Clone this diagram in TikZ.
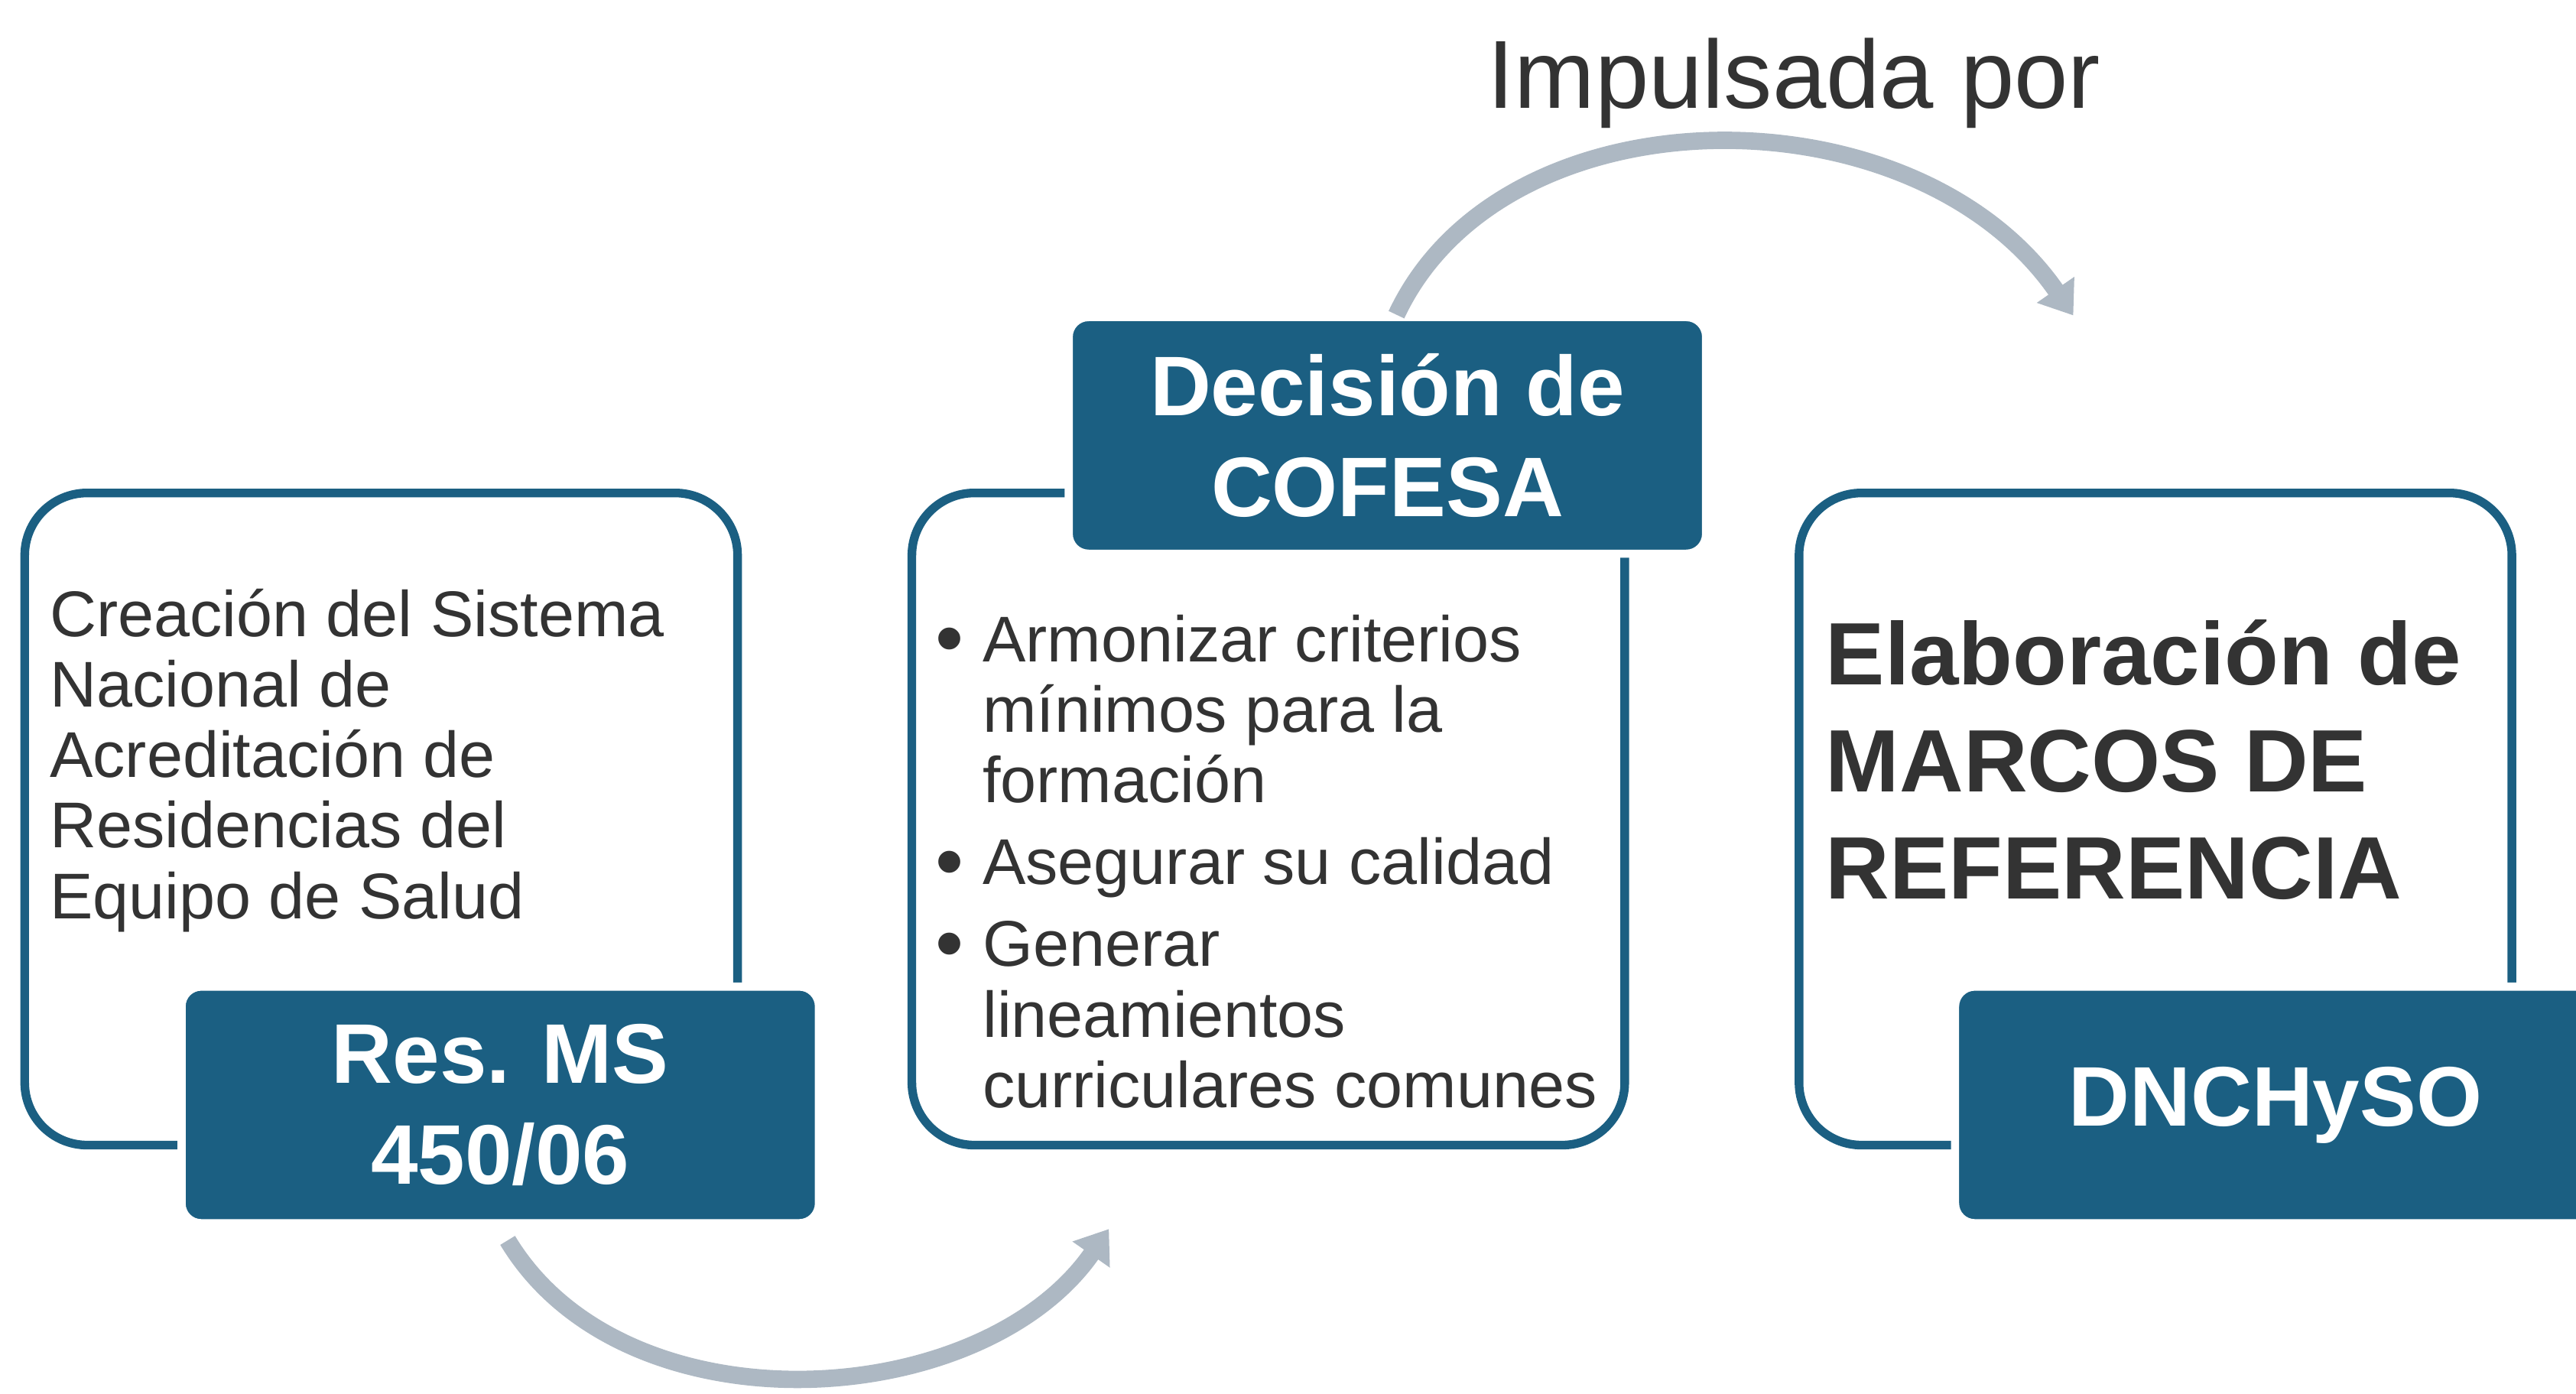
\documentclass[tikz,border=0pt]{standalone}
\usepackage{fontspec}
\setmainfont{Liberation Sans}
\usetikzlibrary{arrows.meta,calc}
\definecolor{boxblue}{HTML}{1B5F82}
\definecolor{arcgrey}{HTML}{ADB8C3}
\definecolor{inkgrey}{HTML}{333333}
\newcommand{\itemdot}{\makebox[16.4pt][l]{\raisebox{-1.5pt}{\fontsize{28}{24}\selectfont\textbullet}}}
\newcommand{\itemgap}{\hspace*{16.4pt}}

\begin{document}
\begin{tikzpicture}[x=0.02cm,y=-0.02cm,
	frame/.style={draw=boxblue,line width=3pt,rounded corners=0.76cm,minimum width=8.68cm,minimum height=7.94cm,inner sep=0pt},
	tag/.style={fill=boxblue,draw=white,line width=2.8pt,rounded corners=0.24cm,minimum width=7.76cm,minimum height=2.88cm,text=white,font=\fontsize{29.3}{35}\selectfont\bfseries,align=center},
	body/.style={text=inkgrey,font=\fontsize{22.4}{24.4}\selectfont,align=left,inner sep=0pt,anchor=base west},
	flow/.style={draw=arcgrey,line width=6pt,-{Triangle[length=0.38cm,width=0.53cm]}}]
	\useasboundingbox (0,0) rectangle (1568,848);
	\node[frame] (cre) at (232,498.5) {};
	\node[frame] (arm) at (772,498.5) {};
	\node[frame] (ela) at (1312,498.5) {};
	\node[tag] (res) at (304.5,672.5) {Res. MS\\450/06};
	\node[tag] (dec) at (844.5,265) {Decisión de\\COFESA};
	\node[tag,minimum width=7.8cm] (dnc) at (1385,672.5) {DNCHySO};
	\node[body] (creText) at (30,559) {Creación del Sistema\\Nacional de\\Acreditación de\\Residencias del\\Equipo de Salud};
	\node[body] (armText) at (569,674) {\itemdot Armonizar criterios\\\itemgap mínimos para la\\\itemgap formación\\[4pt]\itemdot Asegurar su calidad\\[4pt]\itemdot Generar\\\itemgap lineamientos\\\itemgap curriculares comunes};
	\node[body,font=\fontsize{30.7}{37.1}\selectfont\bfseries] (elaText) at (1111,547) {Elaboración de\\MARCOS DE\\REFERENCIA};
	\node[text=inkgrey,font=\fontsize{33.5}{40}\selectfont,inner sep=0pt,anchor=base] (impulso) at (1092,66) {Impulsada por};
	\coordinate (resOut) at ($(res.south)+(4.5,8)$);
	\coordinate (armIn) at (675,748);
	\coordinate (decOut) at ($(dec.north)+(5.5,1)$);
	\coordinate (elaIn) at (1262,192);
	\draw[flow] (resOut) .. controls (380,873) and (597,860) .. (armIn);
	\draw[flow] (decOut) .. controls (915,53) and (1165,52) .. (elaIn);
\end{tikzpicture}
\end{document}
